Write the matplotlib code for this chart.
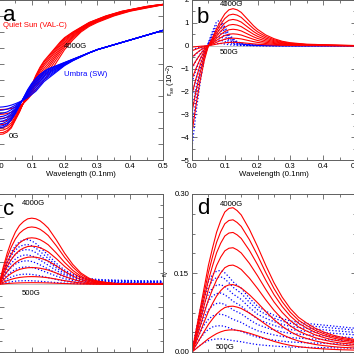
import numpy as np
import matplotlib
matplotlib.use('Agg')
import matplotlib.pyplot as plt
from matplotlib.ticker import MultipleLocator

plt.rcParams['font.family'] = ['Liberation Sans', 'DejaVu Sans']
plt.rcParams['mathtext.fontset'] = 'custom'
plt.rcParams['mathtext.rm'] = 'Liberation Sans'
plt.rcParams['mathtext.it'] = 'Liberation Sans:italic'

# wavelength grid (0.1 nm)
wl = np.array([0, .0125, .025, .0375, .05, .0625, .075, .0875, .1, .1125, .125, .1375,
               .15, .1625, .175, .1875, .2, .225, .25, .275, .3, .325, .35, .375,
               .4, .425, .45, .475, .5])

# --- panel a: profiles for 0G and 4000G, plus start value of each field step
a_red_0G = np.array([0.16, 0.162, 0.175, 0.2, 0.25, 0.3, 0.36, 0.42, 0.47, 0.53, 0.58, 0.62,
                     0.65, 0.68, 0.71, 0.74, 0.765, 0.8, 0.83, 0.86, 0.88, 0.9, 0.915, 0.93,
                     0.94, 0.95, 0.96, 0.967, 0.973])
a_red_4000G = np.array([0.315, 0.316, 0.318, 0.322, 0.33, 0.34, 0.355, 0.38, 0.41, 0.44, 0.47, 0.5,
                        0.53, 0.57, 0.61, 0.65, 0.69, 0.75, 0.8, 0.835, 0.86, 0.88, 0.9, 0.915,
                        0.93, 0.94, 0.95, 0.96, 0.97])
a_blue_0G = np.array([0.2, 0.205, 0.22, 0.25, 0.29, 0.34, 0.39, 0.44, 0.48, 0.51, 0.535, 0.555,
                      0.57, 0.58, 0.59, 0.6, 0.61, 0.63, 0.65, 0.67, 0.69, 0.705, 0.72, 0.735,
                      0.75, 0.765, 0.78, 0.795, 0.81])
a_blue_4000G = np.array([0.33, 0.332, 0.336, 0.343, 0.352, 0.363, 0.375, 0.39, 0.41, 0.43, 0.46, 0.49,
                         0.51, 0.53, 0.55, 0.57, 0.59, 0.62, 0.645, 0.67, 0.69, 0.705, 0.72, 0.735,
                         0.75, 0.765, 0.78, 0.795, 0.81])
a_red_start = [0.16, 0.17, 0.185, 0.2, 0.22, 0.24, 0.26, 0.285, 0.315]
a_blue_start = [0.2, 0.21, 0.225, 0.24, 0.255, 0.27, 0.29, 0.31, 0.33]

# --- panel b: negative lobe + positive lobe shapes, scaled per field step (500G..4000G)
b_red_neg = np.array([1, 0.68, 0.4, 0.17] + [0] * 25)
b_red_pos = np.array([0, 0, 0, 0, 0, 0.22, 0.46, 0.68, 0.86, 0.97, 1.0, 0.97,
                      0.9, 0.78, 0.66, 0.54, 0.44, 0.29, 0.19, 0.12, 0.08, 0.06, 0.04, 0.035,
                      0.025, 0.018, 0.012, 0.008, 0.005])
b_blue_neg = np.array([1, 0.65, 0.36, 0.13] + [0] * 25)
b_blue_pos = np.array([0, 0, 0, 0, 0.12, 0.55, 0.92, 0.97, 0.72, 0.45, 0.27, 0.16,
                       0.1, 0.06, 0.04, 0.03, 0.02, 0.012, 0.008, 0.005, 0.003, 0, 0, 0,
                       0, 0, 0, 0, 0])
b_red_start = [-0.06, -0.22, -0.5, -0.95, -1.45, -2.1, -2.9, -3.8]
b_red_peak = [0.15, 0.33, 0.52, 0.72, 0.93, 1.15, 1.38, 1.62]
b_blue_start = [-0.18, -0.55, -1.0, -1.6, -2.2, -2.8, -3.55, -4.45]
b_blue_peak = [0.1, 0.25, 0.4, 0.55, 0.7, 0.85, 1.0, 1.15]

# --- panel c
c_red_shape = np.array([0, 0.25, 0.47, 0.65, 0.79, 0.89, 0.95, 0.99, 1.0, 0.99, 0.96, 0.91,
                        0.85, 0.76, 0.67, 0.57, 0.47, 0.3, 0.17, 0.09, 0.05, 0.03, 0.015, 0.008,
                        0.004, 0.002, 0.001, 0, 0])
c_blue_shape = np.array([0, 0.28, 0.52, 0.72, 0.86, 0.95, 0.99, 1.0, 0.97, 0.91, 0.83, 0.74,
                         0.65, 0.56, 0.47, 0.39, 0.32, 0.22, 0.16, 0.13, 0.11, 0.1, 0.095, 0.09,
                         0.085, 0.08, 0.078, 0.075, 0.073])
c_red_peak = [0.07, 0.34, 0.74, 1.21, 1.69, 2.06, 2.54, 2.93]
c_blue_peak = [0.16, 0.45, 0.77, 1.04, 1.3, 1.54, 1.76, 1.98]

# --- panel d
d_red_shape = np.array([0, 0.15, 0.3, 0.45, 0.6, 0.72, 0.83, 0.91, 0.97, 0.995, 1.0, 0.98,
                        0.95, 0.9, 0.85, 0.79, 0.73, 0.6, 0.48, 0.38, 0.3, 0.24, 0.2, 0.165,
                        0.14, 0.12, 0.105, 0.095, 0.085])
d_blue_shape = np.array([0, 0.27, 0.52, 0.72, 0.86, 0.95, 0.99, 1.0, 0.97, 0.92, 0.86, 0.82,
                         0.78, 0.72, 0.66, 0.61, 0.56, 0.5, 0.45, 0.41, 0.38, 0.365, 0.35, 0.34,
                         0.33, 0.32, 0.31, 0.3, 0.29])
d_red_peak = [0.042, 0.087, 0.128, 0.165, 0.198, 0.227, 0.251, 0.274]
d_blue_peak = [0.025, 0.05, 0.072, 0.093, 0.112, 0.128, 0.143, 0.155]

RED = '#ff0000'
BLUE = '#0000ff'
GREY = '#606060'
fs = 5.6

fig = plt.figure(figsize=(3.54, 3.54), dpi=100)
P = 354.
axa = fig.add_axes([-1/P, 194/P, 164/P, 160/P])
axb = fig.add_axes([192/P, 194/P, 164/P, 160/P])
axc = fig.add_axes([-1/P, 2/P, 164/P, 158/P])
axd = fig.add_axes([192/P, 2/P, 164/P, 158/P])

# a
for s in a_red_start:
    w = (s - a_red_start[0]) / (a_red_start[-1] - a_red_start[0])
    axa.plot(wl, a_red_0G + w * (a_red_4000G - a_red_0G), color=RED, lw=0.8)
for s in a_blue_start:
    w = (s - a_blue_start[0]) / (a_blue_start[-1] - a_blue_start[0])
    axa.plot(wl, a_blue_0G + w * (a_blue_4000G - a_blue_0G), color=BLUE, lw=0.8)
axa.set_ylim(0, 1)
axa.yaxis.set_major_locator(MultipleLocator(0.1))
axa.text(0.012, 0.84, 'Quiet Sun (VAL-C)', color=RED, fontsize=fs, va='center')
axa.text(0.198, 0.71, '4000G', fontsize=fs, va='center')
axa.text(0.198, 0.535, 'Umbra (SW)', color=BLUE, fontsize=fs, va='center')
axa.text(0.03, 0.15, '0G', fontsize=fs, va='center')
axa.set_xlabel('Wavelength (0.1nm)', fontsize=fs, labelpad=1)

# b
axb.axhline(0, color='#bbbbbb', lw=0.6)
for s, p in zip(b_blue_start, b_blue_peak):
    axb.plot(wl, s * b_blue_neg + p * b_blue_pos, color=BLUE, lw=0.9, ls=(0, (1, 1.6)))
for s, p in zip(b_red_start, b_red_peak):
    axb.plot(wl, s * b_red_neg + p * b_red_pos, color=RED, lw=0.8)
axb.set_ylim(-5, 2)
axb.yaxis.set_major_locator(MultipleLocator(1))
axb.yaxis.set_minor_locator(MultipleLocator(0.5))
axb.text(0.085, 1.82, '4000G', fontsize=fs, va='center')
axb.text(0.085, -0.29, '500G', fontsize=fs, va='center')
axb.set_xlabel('Wavelength (0.1nm)', fontsize=fs, labelpad=1)
axb.set_ylabel(r'r$_{\rm se}$ (10$^{-2}$)', fontsize=fs, labelpad=2)

# c
axc.axhline(0, color='#bbbbbb', lw=0.6)
for p in c_blue_peak:
    axc.plot(wl, p * c_blue_shape, color=BLUE, lw=0.9, ls=(0, (1, 1.6)))
for p in c_red_peak:
    axc.plot(wl, p * c_red_shape, color=RED, lw=0.8)
axc.set_ylim(-3, 4)
axc.yaxis.set_major_locator(MultipleLocator(1))
axc.yaxis.set_minor_locator(MultipleLocator(0.5))
axc.text(0.07, 3.56, '4000G', fontsize=fs, va='center')
axc.text(0.07, -0.42, '500G', fontsize=fs, va='center')

# d
for p in d_blue_peak:
    axd.plot(wl, p * d_blue_shape, color=BLUE, lw=0.9, ls=(0, (1, 1.6)))
for p in d_red_peak:
    axd.plot(wl, p * d_red_shape, color=RED, lw=0.8)
axd.set_ylim(0, 0.3)
axd.set_yticks([0, 0.15, 0.3])
axd.set_yticklabels(['0.00', '0.15', '0.30'])
axd.yaxis.set_minor_locator(MultipleLocator(0.0375))
axd.text(0.085, 0.281, '4000G', fontsize=fs, va='center')
axd.text(0.073, 0.008, '500G', fontsize=fs, va='center')
axd.set_ylabel(r'r$_{\rm v}$', fontsize=fs, labelpad=2)

# panel letters: x offset (px from left spine), baseline (axes fraction)
letters = {axa: ('a', 4, 0.87), axb: ('b', 5, 0.858), axc: ('c', 4, 0.867), axd: ('d', 5, 0.873)}
for ax, (lab, dx, yb) in letters.items():
    ax.set_xlim(0, 0.5)
    ax.xaxis.set_major_locator(MultipleLocator(0.1))
    ax.xaxis.set_minor_locator(MultipleLocator(0.05))
    ax.xaxis.set_major_formatter(plt.FormatStrFormatter('%.1f'))
    ax.tick_params(which='both', direction='in', top=True, right=True, color=GREY,
                   labelsize=fs, pad=2, width=0.6)
    ax.tick_params(which='major', length=3.5)
    ax.tick_params(which='minor', length=2)
    for sp in ax.spines.values():
        sp.set_color(GREY)
        sp.set_linewidth(0.7)
    ax.text(dx / 164., yb, lab, transform=ax.transAxes, fontsize=16, va='baseline', ha='left')

axa.tick_params(labelleft=False)
axc.tick_params(labelleft=False, labelbottom=False)
axd.tick_params(labelbottom=False)

plt.savefig('out.png', dpi=100)
